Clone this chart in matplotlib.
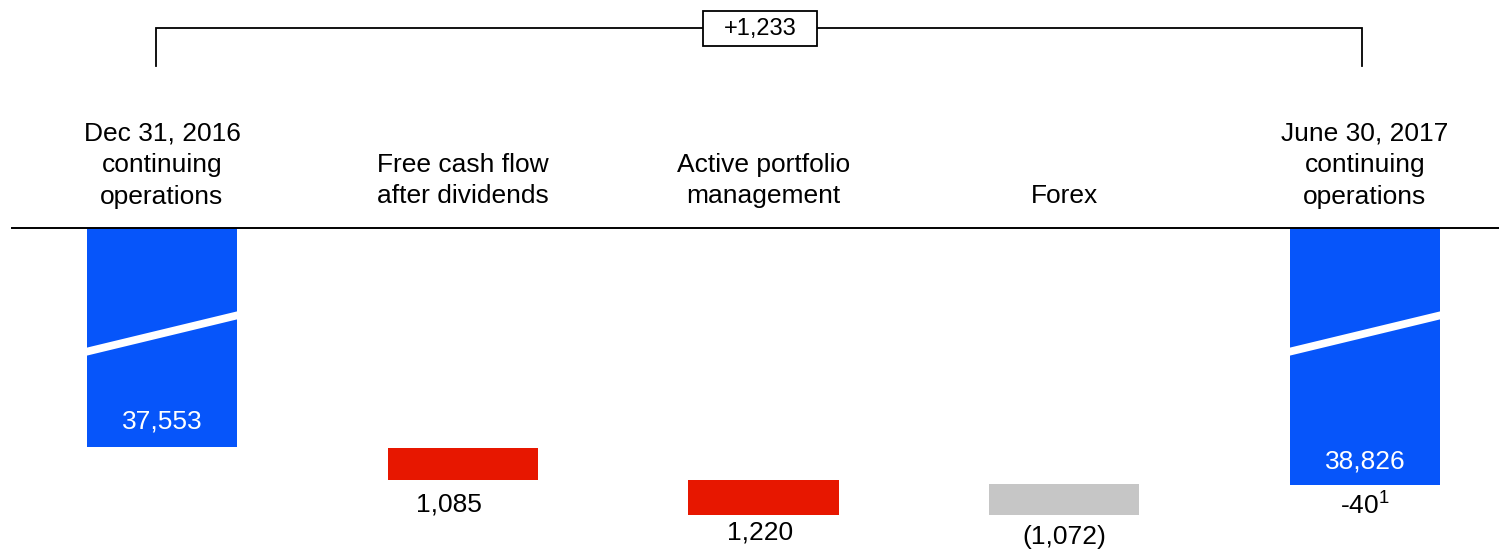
import matplotlib.pyplot as plt
from matplotlib.patches import Rectangle
from matplotlib.transforms import blended_transform_factory

plt.rcParams['font.family'] = ['Liberation Sans', 'DejaVu Sans']
plt.rcParams['mathtext.fontset'] = 'custom'
plt.rcParams['mathtext.rm'] = 'Liberation Sans'

categories = ["Dec 31, 2016\ncontinuing\noperations",
              "Free cash flow\nafter dividends",
              "Active portfolio\nmanagement",
              "Forex",
              "June 30, 2017\ncontinuing\noperations"]
start_value = 37553
changes = [1085, 1220, -1072]
end_value = 38826
value_labels = ["37,553", "1,085", "1,220", "(1,072)", "38,826"]
adjustment_label = "-40$^{\\mathrm{1}}$"
total_change_label = "+1,233"

BLUE = "#0655FA"
RED = "#E71700"
GREY = "#C6C6C6"

W, H = 1499, 552
fig = plt.figure(figsize=(W / 100, H / 100), dpi=100)
ax = fig.add_axes([0, 0, 1, 1])
ax.set_axis_off()

K = 33.9          # value units per pixel
STEP = 300.75     # pixels per category
BASE_PX = 228     # baseline (axis break) in pixels
base = start_value - (447.5 - BASE_PX) * K
ax.set_ylim(start_value + (H - 447.5) * K, start_value - 447.5 * K)
ax.set_xlim(-162 / STEP, (W - 162) / STEP)

# overlay in pixel coordinates for decorations
ov = fig.add_axes([0, 0, 1, 1], facecolor='none')
ov.set_xlim(0, W)
ov.set_ylim(H, 0)
ov.set_axis_off()


def px(n):
    return n * K


bw = 0.5
# start and end totals (broken bars)
ax.bar(0, start_value - base, bottom=base, width=bw, color=BLUE)
level = start_value
for i, d in enumerate(changes, 1):
    ax.bar(i, d, bottom=level, width=bw, color=RED if d > 0 else GREY)
    level += d
ax.bar(4, end_value - base, bottom=base, width=bw, color=BLUE)

# white break stripes
for i in (0, 4):
    xl, xr = i - bw / 2 - 0.005, i + bw / 2 + 0.005
    ax.fill([xl, xr, xr, xl],
            [base + px(348 - BASE_PX), base + px(311 - BASE_PX),
             base + px(319 - BASE_PX), base + px(356 - BASE_PX)],
            color='white', lw=0, zorder=3)

# baseline
ax.plot([(12 - 162) / STEP, (W - 162) / STEP], [base, base], color='black', lw=1.4, zorder=4)

# value labels
fs = 19
ax.text(0, start_value - px(26), value_labels[0], ha='center', va='center', color='white', fontsize=fs, zorder=5)
ax.text(1 - 0.045, start_value + changes[0] + px(25), value_labels[1], ha='center', va='center', fontsize=fs)
ax.text(2 - 0.01, start_value + changes[0] + changes[1] + px(17), value_labels[2], ha='center', va='center', fontsize=fs)
ax.text(3, start_value + changes[0] + changes[1] + px(22), value_labels[3], ha='center', va='center', fontsize=fs)
ax.text(4, end_value - px(24), value_labels[4], ha='center', va='center', color='white', fontsize=fs, zorder=5)
ax.text(4, end_value + px(20), adjustment_label, ha='center', va='center', fontsize=fs)

# category labels
tr = blended_transform_factory(ax.transData, ov.transData)
for i, lab in enumerate(categories):
    n = lab.count("\n") + 1
    ax.text(i, 196 - (n - 1) * 15.5, lab, transform=tr, ha='center', va='center',
            fontsize=fs, linespacing=1.4)

# bracket with total change
ov.plot([156, 156, 1362, 1362], [66, 28, 28, 66], color='black', lw=1.3, solid_joinstyle='miter')
ov.add_patch(Rectangle((703, 11), 114, 35, facecolor='white', edgecolor='black', lw=1.3, zorder=3))
ov.text(760, 29.5, total_change_label, ha='center', va='center', fontsize=17, zorder=4)

fig.savefig("out.png", dpi=100)
